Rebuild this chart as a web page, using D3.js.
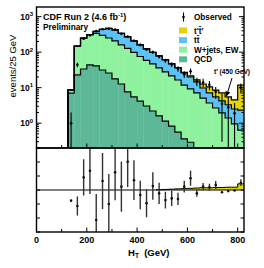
<!DOCTYPE html>
<html>
<head>
<meta charset="utf-8">
<script src="https://cdn.jsdelivr.net/npm/d3@7"></script>
<style>
  body { margin: 0; background: #fff; }
  text { font-family: "Liberation Sans", Arial, sans-serif; font-weight: bold; fill: #000; }
</style>
</head>
<body>
<script>
// H_T bins, 25 GeV wide (lower edges)
const binLo = [125, 150, 175, 200, 225, 250, 275, 300, 325, 350, 375, 400, 425, 450,
               475, 500, 525, 550, 575, 600, 625, 650, 675, 700, 725, 750, 775, 800];
const binWidth = 25;

// stacked predictions, events / 25 GeV
const qcd    = [7.0, 22.8, 33.6, 43.6, 40.9, 31.5, 25.9, 17.6, 12.7, 7.6, 5.5, 4.2, 3.05, 2.2,
                1.6, 1.15, 0.83, 0.56, 0.36, 0.29, 0, 0, 0, 0, 0, 0, 0, 0];
const wjets  = [1.6, 125, 213, 261, 296, 264, 225, 189, 147, 120, 92.6, 71.4, 55.4, 44.3,
                34.3, 26.6, 20.6, 15.9, 11.5, 8.9, 7.1, 5.1, 3.7, 2.68, 1.94, 1.40, 0.95, 0.64];
const ttbar  = [0.1, 1.5, 4, 10, 46.5, 140, 214, 215, 177, 141, 109, 84, 64.6, 51.6,
                42.3, 32.6, 25.1, 19.4, 14.0, 10.8, 7.4, 4.7, 3.4, 2.8, 2.3, 1.9, 1.56, 1.7];
const tprime = [0, 0, 0, 0, 0.1, 0.2, 0.3, 0.4, 0.5, 0.6, 0.6, 0.7, 0.7, 0.8,
                0.8, 0.9, 1.0, 1.1, 1.2, 1.4, 2.0, 2.9, 3.4, 3.1, 2.9, 2.2, 2.0, 9.5];

// observed data
const observed = [1, 44, 240, 300, 390, 440, 455, 430, 330, 275, 210, 160, 118, 100,
                  75, 58, 45, 34, 24, 29, 15, 14, 12, 7.7, 3.5, 2.8, 1.9, 10];
const obsErr   = [1, 6.6, 15.5, 17.3, 19.7, 21, 21.3, 20.7, 18.2, 16.6, 14.5, 12.6, 10.9, 10,
                  8.7, 7.6, 6.7, 5.8, 4.9, 5.4, 3.9, 3.7, 3.5, 2.8, 3.2, 2.6, 1.8, 3.2];

// lower panel
const ratio    = [-0.38, -0.57, 0.45, 0.69, -1.07, 0.32, -0.5, 0.63, 0.12, 1.01, 0.35, -0.18, -0.47, 0.14,
                  -0.12, -0.36, -0.3, -0.32, 0.12, 0.42, -0.12, 0.12, 0.1, 0.18, -0.08, -0.04, -0.02, 0.26];
const ratioErr = [0, 0.34, 0.65, 0.83, 0.93, 1.0, 1.07, 1.0, 0.9, 0.9, 0.71, 0.51, 0.5, 0.49,
                  0.38, 0.3, 0.27, 0.22, 0.21, 0.27, 0.12, 0.13, 0.12, 0.14, 0, 0, 0, 0.12];
const band     = [0, 0, 0, 0, 0, 0, 0, 0, 0, 0, 0, 0, 0, 0,
                  0.01, 0.02, 0.03, 0.04, 0.05, 0.06, 0.07, 0.08, 0.08, 0.09, 0.09, 0.1, 0.1, 0.22];

const xTicks = [0, 200, 400, 600, 800];
const yDecades = [1, 10, 100, 1000];
const legendLabels = ["t\u2032t\u0304\u2032", "tt\u0304", "W+jets, EW", "QCD"];

const keys = ["qcd", "wjets", "ttbar", "tprime"];
const colors = { qcd: "#5cb896", wjets: "#8ef29e", ttbar: "#5cc2f6", tprime: "#e3d40a" };

const width = 264, height = 268;
const pLeft = 36.5, pRight = 244, pTop = 7, pMid = 148, pBottom = 232;

const svg = d3.select("body").append("svg")
  .attr("width", width)
  .attr("height", height);

const x = d3.scaleLinear().domain([0, 825]).range([pLeft, pRight]);
const y = d3.scaleLog().domain([0.2, 1870]).range([pMid, pTop]);
const yr = d3.scaleLinear().domain([-1.5, 1.5]).range([pBottom, pMid]);
const yc = v => y(Math.max(v, 0.2));

const defs = svg.append("defs");
defs.append("clipPath").attr("id", "clipTop")
  .append("rect").attr("x", pLeft).attr("y", pTop).attr("width", pRight - pLeft).attr("height", pMid - pTop);
defs.append("clipPath").attr("id", "clipBot")
  .append("rect").attr("x", pLeft).attr("y", pMid).attr("width", pRight - pLeft).attr("height", pBottom - pMid);

// ---- upper panel: stacked histogram
const rows = binLo.map((b, i) => ({ lo: b, qcd: qcd[i], wjets: wjets[i], ttbar: ttbar[i], tprime: tprime[i] }));
const series = d3.stack().keys(keys)(rows);

const up = svg.append("g").attr("clip-path", "url(#clipTop)");

series.forEach(s => {
  up.append("g")
    .attr("fill", colors[s.key])
    .selectAll("rect")
    .data(s.filter(d => d[1] - d[0] > 0))
    .enter().append("rect")
    .attr("x", d => x(d.data.lo))
    .attr("width", d => x(d.data.lo + binWidth) - x(d.data.lo) + 0.3)
    .attr("y", d => yc(d[1]))
    .attr("height", d => Math.max(0, yc(d[0]) - yc(d[1])));
});

const step = d3.line().x(d => x(d[0])).y(d => yc(d[1])).curve(d3.curveStepAfter);
series.forEach(s => {
  const pts = [[binLo[0], 0.2]].concat(s.map(d => [d.data.lo, d[1]]));
  pts.push([binLo[binLo.length - 1] + binWidth, s[s.length - 1][1]]);
  up.append("path")
    .attr("d", step(pts))
    .attr("fill", "none")
    .attr("stroke", "#000")
    .attr("stroke-width", 1.2);
});

// observed points
const obs = up.append("g");
obs.selectAll("line")
  .data(observed)
  .enter().append("line")
  .attr("x1", (d, i) => x(binLo[i] + binWidth / 2))
  .attr("x2", (d, i) => x(binLo[i] + binWidth / 2))
  .attr("y1", (d, i) => yc(d + obsErr[i]))
  .attr("y2", (d, i) => yc(d - obsErr[i]))
  .attr("stroke", "#000")
  .attr("stroke-width", 1.1);
obs.selectAll("circle")
  .data(observed)
  .enter().append("circle")
  .attr("cx", (d, i) => x(binLo[i] + binWidth / 2))
  .attr("cy", d => yc(d))
  .attr("r", 1.3)
  .attr("fill", "#000");

// ---- lower panel
const lo = svg.append("g").attr("clip-path", "url(#clipBot)");
const bandRows = binLo.map((b, i) => ({ lo: b, v: band[i] })).filter(d => d.v > 0);
lo.append("g").attr("fill", colors.tprime)
  .selectAll("rect")
  .data(bandRows)
  .enter().append("rect")
  .attr("x", d => x(d.lo))
  .attr("width", d => x(d.lo + binWidth) - x(d.lo) + 0.3)
  .attr("y", d => yr(d.v))
  .attr("height", d => yr(0) - yr(d.v));

lo.append("line")
  .attr("x1", pLeft).attr("x2", pRight)
  .attr("y1", yr(0)).attr("y2", yr(0))
  .attr("stroke", "#000").attr("stroke-width", 1.2);

const bandPts = bandRows.map(d => [d.lo, d.v]);
bandPts.push([800 + binWidth, band[band.length - 1]]);
lo.append("path")
  .attr("d", d3.line().x(d => x(d[0])).y(d => yr(d[1])).curve(d3.curveStepAfter)(bandPts))
  .attr("fill", "none").attr("stroke", "#000").attr("stroke-width", 1);

lo.selectAll("line.err")
  .data(ratio)
  .enter().append("line")
  .attr("class", "err")
  .attr("x1", (d, i) => x(binLo[i] + binWidth / 2))
  .attr("x2", (d, i) => x(binLo[i] + binWidth / 2))
  .attr("y1", (d, i) => yr(d + ratioErr[i]))
  .attr("y2", (d, i) => yr(d - ratioErr[i]))
  .attr("stroke", "#333")
  .attr("stroke-width", 1.4);
lo.selectAll("circle")
  .data(ratio)
  .enter().append("circle")
  .attr("cx", (d, i) => x(binLo[i] + binWidth / 2))
  .attr("cy", d => yr(d))
  .attr("r", 1.3)
  .attr("fill", "#111");

// ---- frames and ticks
const frame = svg.append("g").attr("fill", "none").attr("stroke", "#000").attr("stroke-width", 1.4);
frame.append("rect").attr("x", pLeft).attr("y", pTop).attr("width", pRight - pLeft).attr("height", pMid - pTop);
frame.append("rect").attr("x", pLeft).attr("y", pMid).attr("width", pRight - pLeft).attr("height", pBottom - pMid);

const ticks = svg.append("g").attr("stroke", "#000").attr("stroke-width", 1);
y.ticks().forEach(t => {
  const major = yDecades.includes(t);
  const len = major ? 5 : 2.5;
  ticks.append("line").attr("x1", pLeft).attr("x2", pLeft + len).attr("y1", y(t)).attr("y2", y(t));
  ticks.append("line").attr("x1", pRight).attr("x2", pRight - len).attr("y1", y(t)).attr("y2", y(t));
});
d3.range(-1.5, 1.51, 0.5).forEach(t => {
  ticks.append("line").attr("x1", pLeft).attr("x2", pLeft + 3.5).attr("y1", yr(t)).attr("y2", yr(t));
  ticks.append("line").attr("x1", pRight).attr("x2", pRight - 3.5).attr("y1", yr(t)).attr("y2", yr(t));
});
d3.range(100, 801, 100).forEach(t => {
  const len = xTicks.includes(t) ? 4.5 : 3;
  [pMid, pBottom].forEach(b => {
    ticks.append("line").attr("x1", x(t)).attr("x2", x(t)).attr("y1", b).attr("y2", b - len);
  });
});

// tick labels
const yl = svg.append("g");
yDecades.forEach(t => {
  const exp = Math.round(Math.log10(t));
  const tx = yl.append("text")
    .attr("x", pLeft - 3.5)
    .attr("y", y(t) + 3.2)
    .attr("text-anchor", "end")
    .attr("font-size", 8.5);
  tx.append("tspan").text("10");
  tx.append("tspan").attr("dy", -3.5).attr("font-size", 6).text(exp);
});
svg.append("g").selectAll("text")
  .data(xTicks)
  .enter().append("text")
  .attr("x", d => x(d))
  .attr("y", 243)
  .attr("text-anchor", "middle")
  .attr("font-size", 9)
  .text(d => d);

// axis titles
svg.append("text")
  .attr("transform", "translate(15.5,66) rotate(-90)")
  .attr("text-anchor", "middle")
  .attr("font-size", 9.5)
  .style("font-weight", "normal")
  .text("events/25 GeV");

const xt = svg.append("text").attr("x", 128).attr("y", 256).attr("font-size", 9.5);
xt.append("tspan").text("H");
xt.append("tspan").attr("dy", 2).attr("font-size", 6.5).text("T");
xt.append("tspan").attr("dy", -2).text("\u00a0 (GeV)");

// title
const title = svg.append("text").attr("x", 43).attr("y", 19.5).attr("font-size", 9);
title.append("tspan").text("CDF Run 2 (4.6 fb");
title.append("tspan").attr("dy", -3).attr("font-size", 6).text("-1");
title.append("tspan").attr("dy", 3).text(")");
svg.append("text").attr("x", 43).attr("y", 29.5).attr("font-size", 8.3).text("Preliminary");

// legend
const lg = svg.append("g");
lg.append("line").attr("x1", 183.5).attr("x2", 183.5).attr("y1", 12.5).attr("y2", 21.5)
  .attr("stroke", "#000").attr("stroke-width", 1.1);
lg.append("circle").attr("cx", 183.5).attr("cy", 17).attr("r", 1.3).attr("fill", "#000");
lg.append("text").attr("x", 194).attr("y", 20).attr("font-size", 8.2).text("Observed");
["tprime", "ttbar", "wjets", "qcd"].forEach((k, i) => {
  const yy = 27.5 + i * 9.6;
  lg.append("rect").attr("x", 179).attr("y", yy).attr("width", 8).attr("height", 6).attr("fill", colors[k]);
  lg.append("text").attr("x", 194).attr("y", yy + 6).attr("font-size", 8.2).text(legendLabels[i]);
});

// signal annotation
svg.append("text").attr("x", 214).attr("y", 74).attr("font-size", 6.6).text("t\u2032 (450 GeV)");
defs.append("marker").attr("id", "arr").attr("viewBox", "0 0 10 10")
  .attr("refX", 9).attr("refY", 5).attr("markerWidth", 5).attr("markerHeight", 5).attr("orient", "auto")
  .append("path").attr("d", "M0,0L10,5L0,10z").attr("fill", "#000");
svg.append("line").attr("x1", 232).attr("y1", 78).attr("x2", 226.5).attr("y2", 96)
  .attr("stroke", "#000").attr("stroke-width", 1).attr("marker-end", "url(#arr)");
</script>
</body>
</html>
